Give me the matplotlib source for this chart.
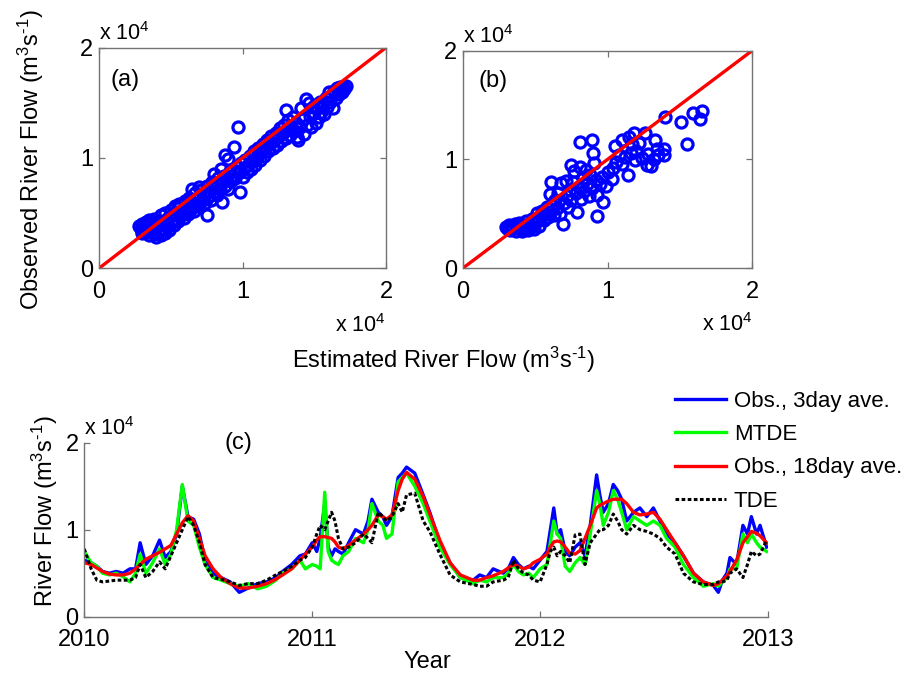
import matplotlib
matplotlib.use("Agg")
import matplotlib.pyplot as plt
import numpy as np

plt.rcParams["font.family"] = ["Liberation Sans", "DejaVu Sans"]
plt.rcParams["mathtext.fontset"] = "custom"
plt.rcParams["mathtext.rm"] = "Liberation Sans"

# %% scatter (a): estimated vs observed river flow, m3/s
est_a = [2800, 2900, 3000, 3000, 3100, 3200, 3300, 3300, 3400, 3400,
         3500, 3500, 3600, 3600, 3700, 3800, 3800, 3900, 4000, 4000,
         4100, 4200, 4200, 4300, 4300, 4400, 4500, 4500, 4600, 4600,
         4700, 4800, 4900, 5000, 5000, 5100, 5200, 5300, 5300, 5400,
         5500, 5500, 5600, 5700, 5800, 5900, 6000, 6000, 6100, 6200,
         6200, 6300, 6400, 6500, 6500, 6600, 6700, 6800, 6900, 7000,
         7000, 7100, 7200, 7300, 7400, 7500, 7500, 7600, 7700, 7800,
         7900, 8000, 8000, 8100, 8200, 8300, 8400, 8500, 8500, 8600,
         8700, 8800, 8800, 8900, 9000, 9000, 9100, 9200, 9300, 9400,
         9500, 9600, 9700, 9800, 9800, 9900, 10000, 10100, 10200, 10300,
         10400, 10500, 10600, 10700, 10800, 10900, 11000, 11100, 11200, 11300,
         11400, 11500, 11600, 11700, 11800, 11900, 12000, 12100, 12200, 12300,
         12400, 12500, 12600, 12700, 12800, 12900, 13000, 13000, 13100, 13200,
         13300, 13400, 13500, 13600, 13700, 13800, 13900, 14000, 14100, 14200,
         14300, 14400, 14500, 14600, 14700, 14800, 14900, 15000, 15100, 15200,
         15300, 15400, 15500, 15600, 15700, 15800, 15900, 16000, 16100, 16200,
         16300, 16400, 16500, 16600, 16700, 16800, 16900, 17000, 17100, 17200]
obs_a = [3800, 3600, 4000, 3200, 3500, 3900, 4200, 3300, 3700, 4100,
         4400, 3000, 3400, 3800, 4000, 3100, 4500, 3600, 2800, 4200,
         3300, 3900, 3400, 4800, 3000, 3600, 4300, 3500, 3200, 5000,
         3900, 4600, 3500, 5300, 4100, 4800, 3900, 5600, 4500, 5000,
         4300, 5500, 5800, 4800, 5300, 4600, 6100, 5100, 5600, 4900,
         6000, 6400, 5400, 5900, 7200, 5200, 6800, 5800, 6300, 5600,
         7400, 7100, 6200, 6700, 5900, 4800, 7500, 6500, 7000, 6200,
         7800, 6900, 8500, 7400, 6600, 8200, 7200, 7700, 9000, 6000,
         8400, 7500, 10300, 8000, 7200, 9900, 8800, 7900, 8400, 11000,
         8200, 9200, 12800, 6900, 8700, 9500, 8300, 9100, 9800, 8700,
         9400, 10200, 9000, 9800, 10600, 9400, 10100, 10900, 9800, 10500,
         11300, 10200, 10900, 11600, 10600, 11300, 12000, 10900, 11600, 12300,
         11200, 11900, 12700, 11500, 12300, 13000, 11800, 14300, 12600, 13400,
         12100, 12900, 13700, 12400, 13200, 11900, 11600, 12800, 14500, 13500,
         12200, 15300, 13000, 15000, 13800, 12800, 14600, 14100, 13200, 14600,
         13700, 15100, 14200, 14800, 14000, 15400, 14600, 16000, 15100, 15600,
         14500, 16100, 15400, 16300, 15800, 16400, 16000, 16400, 16200, 16500]

# %% scatter (b)
est_b = [3000, 3100, 3200, 3300, 3400, 3500, 3600, 3700, 3800, 3900,
         4000, 4100, 4200, 4300, 4400, 4500, 4600, 4700, 4800, 4900,
         5000, 5100, 5200, 5300, 5400, 5500, 5600, 5700, 5800, 5900,
         6000, 6000, 6100, 6200, 6300, 6400, 6500, 6600, 6700, 6800,
         6900, 7000, 7100, 7200, 7300, 7400, 7500, 7500, 7600, 7700,
         7800, 7900, 8000, 8100, 8100, 8200, 8300, 8400, 8500, 8600,
         8700, 8800, 8900, 8900, 9000, 9100, 9200, 9300, 9300, 9500,
         9600, 9700, 9900, 10000, 10300, 10400, 10500, 10600, 10800, 11000,
         11000, 11200, 11400, 11500, 11600, 11700, 11800, 11900, 12000, 12200,
         12400, 12600, 12700, 12800, 13000, 13200, 13300, 13400, 13500, 13900,
         14000, 15100, 15500, 15900, 16400, 16500, 13900]
obs_b = [3800, 3600, 4000, 3500, 3900, 3700, 4100, 3400, 3800, 4200,
         3600, 3400, 4000, 3700, 4300, 3500, 4000, 3800, 4500, 3600,
         4200, 5100, 4600, 3900, 4800, 5300, 4400, 5000, 5600, 4700,
         6800, 5200, 7900, 5800, 4900, 6300, 5500, 6900, 5000, 7800,
         4100, 6000, 8000, 6600, 5600, 7200, 9500, 6300, 7900, 8900,
         6900, 5200, 7500, 11600, 9300, 6400, 8300, 7100, 9000, 7700,
         6600, 8600, 11800, 7400, 10600, 9700, 8100, 6700, 4800, 7700,
         8400, 6100, 7600, 8800, 8200, 9200, 11200, 9800, 10400, 11800,
         9600, 10200, 8600, 12100, 10600, 11400, 12400, 9900, 10800, 11500,
         10100, 12400, 9500, 10500, 9400, 10000, 11800, 11000, 10400, 11000,
         13900, 13400, 11400, 14300, 13700, 14400, 10400]

# %% (c) time series, m3/s
year = [2010.000, 2010.030, 2010.055, 2010.080, 2010.110, 2010.140, 2010.170, 2010.200, 2010.225, 2010.245,
        2010.270, 2010.300, 2010.330, 2010.355, 2010.380, 2010.405, 2010.430, 2010.455, 2010.480, 2010.505,
        2010.530, 2010.565, 2010.600, 2010.640, 2010.680, 2010.720, 2010.760, 2010.800, 2010.840, 2010.870,
        2010.910, 2010.946, 2010.970, 2011.000, 2011.020, 2011.035, 2011.055, 2011.070, 2011.085, 2011.100,
        2011.115, 2011.135, 2011.160, 2011.190, 2011.225, 2011.245, 2011.262, 2011.290, 2011.310, 2011.326,
        2011.350, 2011.377, 2011.395, 2011.414, 2011.450, 2011.487, 2011.516, 2011.560, 2011.605, 2011.650,
        2011.706, 2011.735, 2011.765, 2011.794, 2011.838, 2011.860, 2011.883, 2011.905, 2011.927, 2011.950,
        2011.970, 2012.000, 2012.030, 2012.045, 2012.060, 2012.075, 2012.090, 2012.110, 2012.130, 2012.154,
        2012.175, 2012.197, 2012.220, 2012.248, 2012.262, 2012.277, 2012.300, 2012.321, 2012.340, 2012.358,
        2012.380, 2012.410, 2012.438, 2012.468, 2012.497, 2012.526, 2012.555, 2012.592, 2012.629, 2012.673,
        2012.716, 2012.760, 2012.782, 2012.800, 2012.820, 2012.833, 2012.862, 2012.890, 2012.910, 2012.927,
        2012.950, 2012.965, 2012.994]
obs_3day = [6500, 6200, 5800, 5200, 5000, 5200, 5000, 5500, 5500, 8500,
            6000, 7000, 8800, 6800, 7500, 9500, 15000, 11500, 11200, 9500,
            6500, 5000, 4500, 4000, 2800, 3300, 3800, 4000, 4500, 5200,
            6000, 7000, 7200, 8500, 7500, 9000, 13000, 8000, 7000, 7800,
            7500, 7200, 8500, 10000, 9500, 11000, 13500, 12000, 11500, 10500,
            11500, 16000, 16500, 17200, 16500, 14000, 12000, 8500, 6200, 4500,
            4200, 4800, 4500, 5500, 5000, 5500, 6800, 6000, 5500, 5800,
            5500, 6500, 7500, 10000, 12500, 9500, 10000, 7500, 7000, 8000,
            8500, 7000, 10500, 16300, 14000, 12000, 13000, 15200, 14500, 13500,
            11000, 12000, 12500, 11500, 12500, 11000, 9500, 8500, 7000, 5000,
            4000, 3600, 2800, 4200, 5000, 6800, 6000, 10500, 9500, 11500,
            9500, 10500, 8000]
mtde = [7500, 6200, 5800, 5000, 4800, 5000, 4600, 4000, 5000, 7200,
        5000, 6200, 7800, 6000, 7200, 10000, 15200, 11000, 10500, 8000,
        6000, 4500, 4200, 3800, 3500, 3800, 3200, 3500, 4200, 5000,
        5500, 6500, 5500, 6000, 5800, 5500, 14300, 7500, 6500, 6200,
        6000, 7000, 7500, 9000, 8500, 10000, 13000, 11000, 10500, 9000,
        9500, 15500, 16000, 16500, 15000, 13000, 11000, 8000, 6000, 4500,
        3800, 4200, 4000, 4500, 4500, 5000, 6000, 5200, 4800, 5000,
        4500, 5500, 6000, 8500, 11000, 9500, 9000, 5800, 5200, 6200,
        6800, 6000, 9500, 14500, 13000, 10500, 12000, 14500, 13500, 12000,
        10000, 11500, 11000, 10500, 11000, 10500, 9000, 8000, 6000, 4500,
        3500, 3800, 3500, 4000, 4500, 5500, 5500, 9500, 8500, 9500,
        8500, 8000, 7500]
obs_18day = [6200, 6000, 5600, 5200, 4900, 4800, 4800, 5000, 5500, 6000,
             6600, 7000, 7400, 7800, 8200, 9500, 10800, 11600, 11000, 9000,
             7000, 5500, 4500, 3800, 3300, 3300, 3500, 3800, 4300, 4800,
             5500, 6500, 7200, 8000, 8800, 9200, 9200, 9100, 9000, 8600,
             8000, 7800, 8200, 8800, 9500, 10000, 10500, 11700, 11500, 11200,
             11700, 14500, 15800, 16600, 15800, 13800, 11800, 8800, 6200, 4800,
             4200, 4200, 4500, 4700, 5200, 5600, 6000, 5800, 5500, 5700,
             6200, 6600, 7200, 8000, 8600, 8700, 8600, 8000, 7300, 7200,
             7600, 9000, 10500, 12500, 12800, 13000, 13300, 13500, 13500, 13500,
             13000, 12000, 11700, 11800, 12000, 11200, 10000, 8500, 7000, 5000,
             4000, 3600, 3800, 4200, 4700, 5200, 6500, 8500, 9200, 9800,
             9600, 9300, 8500]
tde = [7800, 5500, 4200, 4000, 4100, 4200, 4200, 4200, 4500, 6000,
       4500, 5200, 6300, 5500, 7000, 8500, 10000, 11500, 10500, 8500,
       6000, 4500, 4300, 4000, 3600, 3800, 3800, 4200, 4800, 5200,
       5800, 6500, 6800, 8000, 9500, 10500, 10000, 11000, 12000, 11000,
       9000, 7800, 8000, 8500, 9500, 9000, 8500, 12000, 11500, 11000,
       11500, 13000, 12000, 14000, 14200, 11000, 9800, 7200, 4800, 4000,
       3700, 3500, 3500, 4000, 4200, 4500, 6500, 5500, 5000, 4800,
       4200, 4000, 6000, 7500, 8000, 7000, 7500, 7000, 6200, 9400,
       9500, 6000, 8500, 9500, 10000, 10000, 10500, 11800, 11000, 10000,
       9500, 10500, 10000, 9800, 9500, 9000, 8000, 7200, 5000, 4000,
       3700, 3700, 4000, 4000, 4200, 5000, 5500, 4500, 6000, 7500,
       7000, 7200, 8800]

ticks = [0, 1, 2]
year_ticks = [2010, 2011, 2012, 2013]
FS = 17
W, H = 917, 673


def px(x0, y0, x1, y1):
    # pixel box (top-left origin) -> figure fraction rect
    return [x0 / W, 1 - y1 / H, (x1 - x0) / W, (y1 - y0) / H]


def style_axes(ax, box=True):
    for side, sp in ax.spines.items():
        sp.set_color("0.45")
        sp.set_linewidth(1.0)
        if not box and side in ("top", "right"):
            sp.set_visible(False)
    ax.tick_params(direction="in", length=4, width=0.9, color="0.45",
                   labelsize=FS, top=box, right=box)
    ax.tick_params(axis="x", pad=9)
    ax.tick_params(axis="y", pad=4)


fig = plt.figure(figsize=(W / 100, H / 100), dpi=100)

scatter_panels = [
    (est_a, obs_a, px(99, 47.5, 386, 268.3), "(a)", (0.18, 1.71)),
    (est_b, obs_b, px(462.7, 50.5, 752.3, 268.3), "(b)", (0.21, 1.72)),
]
for est, obs, rect, tag, tag_xy in scatter_panels:
    ax = fig.add_axes(rect)
    ax.plot(np.array(est) / 1e4, np.array(obs) / 1e4, "o", mfc="none",
            mec="#0000ff", mew=2.3, ms=8, clip_on=False)
    ax.plot([0, 2], [0, 2], color="#ff0000", lw=2.4)
    ax.set_xlim(0, 2)
    ax.set_ylim(0, 2)
    ax.set_xticks(ticks)
    ax.set_yticks(ticks)
    style_axes(ax)
    ax.text(tag_xy[0], tag_xy[1], tag, fontsize=FS, ha="center", va="center")
    ax.text(0, 1.035, r"x 10$^{\mathregular{4}}$", transform=ax.transAxes,
            fontsize=15.5, ha="left", va="baseline")
    ax.text(1, -0.29, r"x 10$^{\mathregular{4}}$", transform=ax.transAxes,
            fontsize=15.5, ha="right", va="baseline")

unit = "$\\mathregular{(m^3s^{\u20101})}$"
fig.text(31 / W, 1 - 160 / H, "Observed River Flow " + unit, rotation=90,
         fontsize=FS, ha="center", va="center")
fig.text(444 / W, 1 - 360 / H, "Estimated River Flow " + unit,
         fontsize=FS, ha="center", va="center")

# %% (c)
axc = fig.add_axes(px(84.3, 442.7, 768, 616.7))
yr = np.array(year)
axc.plot(yr, np.array(obs_3day) / 1e4, color="#0000ff", lw=2.4, label="Obs., 3day ave.")
axc.plot(yr, np.array(mtde) / 1e4, color="#00ff00", lw=2.4, label="MTDE")
axc.plot(yr, np.array(obs_18day) / 1e4, color="#ff0000", lw=2.4, label="Obs., 18day ave.")
axc.plot(yr, np.array(tde) / 1e4, color="black", lw=2.2, ls=(0, (1.2, 0.8)), label="TDE")
axc.set_xlim(2010, 2013)
axc.set_ylim(0, 2)
axc.set_xticks(year_ticks)
axc.set_yticks(ticks)
style_axes(axc, box=False)
axc.text(2010.675, 2.0, "(c)", fontsize=FS, ha="center", va="center", clip_on=False)
axc.text(0, 1.045, r"x 10$^{\mathregular{4}}$", transform=axc.transAxes,
         fontsize=15.5, ha="left", va="baseline")
fig.text(45 / W, 1 - 511 / H, "River Flow " + unit, rotation=90,
         fontsize=FS, ha="center", va="center")
fig.text(427 / W, 1 - 662 / H, "Year", fontsize=FS, ha="center", va="center")

axc.legend(loc="upper left", bbox_to_anchor=(675 / W, 1 - 391 / H),
           bbox_transform=fig.transFigure, frameon=False, fontsize=16,
           handlelength=2.3, handletextpad=0.35, labelspacing=0.55,
           borderpad=0, borderaxespad=0)

fig.savefig("out.png", dpi=100)
